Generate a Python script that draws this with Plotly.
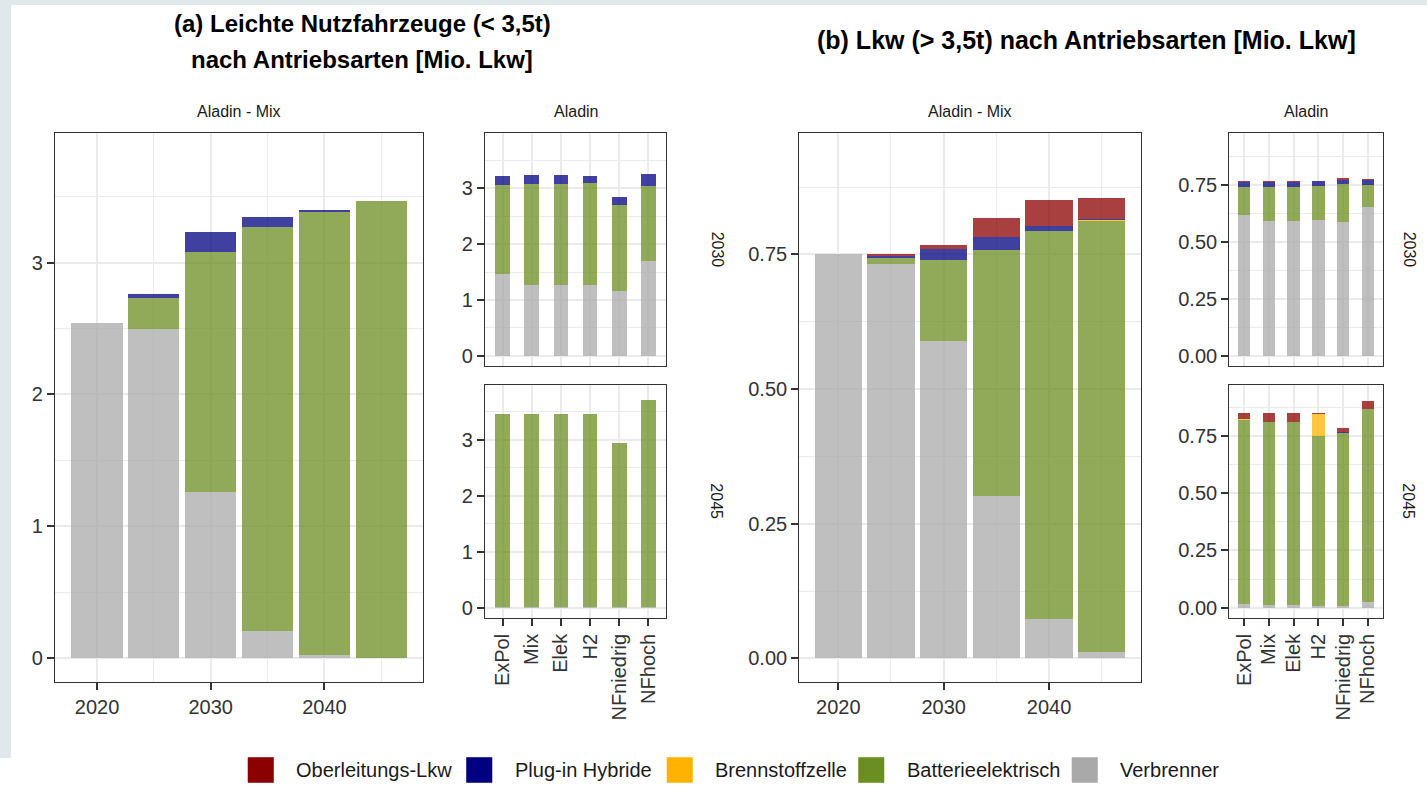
import plotly.graph_objects as go

# ---------------------------------------------------------------- data
years = [2020, 2025, 2030, 2035, 2040, 2045]
scenarios = ["ExPol", "Mix", "Elek", "H2", "NFniedrig", "NFhoch"]

drives = ["Verbrenner", "Batterieelektrisch", "Brennstoffzelle",
          "Plug-in Hybride", "Oberleitungs-Lkw"]
legend_order = ["Oberleitungs-Lkw", "Plug-in Hybride", "Brennstoffzelle",
                "Batterieelektrisch", "Verbrenner"]

# (a) light commercial vehicles, Aladin - Mix over time [Mio.]
lnf_mix_verbrenner = [2.54, 2.50, 1.26, 0.21, 0.025, 0.003]
lnf_mix_bev = [0.0, 0.235, 1.82, 3.06, 3.36, 3.464]
lnf_mix_fcev = [0.0, 0.0, 0.0, 0.0, 0.0, 0.0]
lnf_mix_phev = [0.0, 0.025, 0.15, 0.076, 0.01, 0.0]
lnf_mix_ol = [0.0, 0.0, 0.0, 0.0, 0.0, 0.0]

# (a) Aladin scenarios, 2030
lnf_2030_verbrenner = [1.472, 1.26, 1.26, 1.27, 1.163, 1.70]
lnf_2030_bev = [1.587, 1.82, 1.82, 1.819, 1.544, 1.341]
lnf_2030_fcev = [0.0, 0.0, 0.0, 0.0, 0.0, 0.0]
lnf_2030_phev = [0.166, 0.15, 0.15, 0.136, 0.137, 0.209]
lnf_2030_ol = [0.0, 0.0, 0.0, 0.0, 0.0, 0.0]

# (a) Aladin scenarios, 2045
lnf_2045_verbrenner = [0.003, 0.003, 0.003, 0.003, 0.003, 0.003]
lnf_2045_bev = [3.461, 3.464, 3.464, 3.454, 2.94, 3.70]
lnf_2045_fcev = [0.0, 0.0, 0.0, 0.012, 0.0, 0.0]
lnf_2045_phev = [0.0, 0.0, 0.0, 0.0, 0.0, 0.0]
lnf_2045_ol = [0.0, 0.0, 0.0, 0.0, 0.0, 0.0]

# (b) heavy trucks, Aladin - Mix over time [Mio.]
lkw_mix_verbrenner = [0.750, 0.733, 0.589, 0.302, 0.073, 0.012]
lkw_mix_bev = [0.0, 0.011, 0.151, 0.457, 0.720, 0.800]
lkw_mix_fcev = [0.0, 0.0, 0.0, 0.0, 0.0, 0.002]
lkw_mix_phev = [0.0, 0.004, 0.021, 0.0235, 0.009, 0.001]
lkw_mix_ol = [0.0, 0.003, 0.006, 0.0355, 0.0485, 0.039]

# (b) Aladin scenarios, 2030
lkw_2030_verbrenner = [0.617, 0.589, 0.589, 0.594, 0.585, 0.651]
lkw_2030_bev = [0.121, 0.151, 0.151, 0.149, 0.166, 0.096]
lkw_2030_fcev = [0.0, 0.0, 0.0, 0.0, 0.0, 0.0]
lkw_2030_phev = [0.022, 0.021, 0.021, 0.022, 0.021, 0.025]
lkw_2030_ol = [0.006, 0.006, 0.006, 0.001, 0.006, 0.003]

# (b) Aladin scenarios, 2045
lkw_2045_verbrenner = [0.015, 0.012, 0.012, 0.007, 0.007, 0.023]
lkw_2045_bev = [0.805, 0.800, 0.800, 0.745, 0.757, 0.845]
lkw_2045_fcev = [0.004, 0.002, 0.0, 0.097, 0.0, 0.0]
lkw_2045_phev = [0.0, 0.001, 0.003, 0.0, 0.004, 0.003]
lkw_2045_ol = [0.028, 0.039, 0.039, 0.002, 0.019, 0.033]

colors = {
    "Oberleitungs-Lkw": (139, 0, 0),
    "Plug-in Hybride": (0, 0, 128),
    "Brennstoffzelle": (255, 179, 0),
    "Batterieelektrisch": (107, 142, 35),
    "Verbrenner": (169, 169, 169),
}
BAR_ALPHA = 0.75

# ---------------------------------------------------------------- layout helpers
W, H = 1427, 791
FONT = "Liberation Sans, Arial, sans-serif"
TICK_COLOR = "#333333"
GRID = "#ebebeb"


def xdom(left, right):
    return [left / W, right / W]


def ydom(top, bottom):
    return [1 - bottom / H, 1 - top / H]


def rgba(rgb, a):
    return "rgba(%d,%d,%d,%.2f)" % (rgb[0], rgb[1], rgb[2], a)


fig = go.Figure()

panels = [
    # axis id, x values, series by drive, bar width
    ("", years, [lnf_mix_verbrenner, lnf_mix_bev, lnf_mix_fcev, lnf_mix_phev, lnf_mix_ol], 4.5),
    ("2", scenarios, [lnf_2030_verbrenner, lnf_2030_bev, lnf_2030_fcev, lnf_2030_phev, lnf_2030_ol], 0.5),
    ("3", scenarios, [lnf_2045_verbrenner, lnf_2045_bev, lnf_2045_fcev, lnf_2045_phev, lnf_2045_ol], 0.5),
    ("4", years, [lkw_mix_verbrenner, lkw_mix_bev, lkw_mix_fcev, lkw_mix_phev, lkw_mix_ol], 4.5),
    ("5", scenarios, [lkw_2030_verbrenner, lkw_2030_bev, lkw_2030_fcev, lkw_2030_phev, lkw_2030_ol], 0.5),
    ("6", scenarios, [lkw_2045_verbrenner, lkw_2045_bev, lkw_2045_fcev, lkw_2045_phev, lkw_2045_ol], 0.5),
]

for ax, xs, series, width in panels:
    for name, vals in zip(drives, series):
        fig.add_trace(go.Bar(
            x=xs, y=vals, name=name, width=width,
            xaxis="x" + ax, yaxis="y" + ax,
            marker=dict(color=rgba(colors[name], BAR_ALPHA), line=dict(width=0)),
            showlegend=False, legendgroup=name,
            hovertemplate="%{x}: %{y:.3f}<extra>" + name + "</extra>",
        ))

tick_font = dict(family=FONT, size=20, color=TICK_COLOR)


def frame_axis(**kw):
    base = dict(
        showline=True, mirror=True, linecolor="#333333", linewidth=1.3,
        showgrid=True, gridcolor=GRID, gridwidth=2, zeroline=False,
        ticks="outside", ticklen=7, tickwidth=2, tickcolor=TICK_COLOR,
        tickfont=tick_font, fixedrange=True,
    )
    base.update(kw)
    return base


lnf_range = [-0.18, 3.98]
lkw_range = [-0.0445, 0.975]
year_range = [2016.3, 2048.7]
cat_range = [-0.6, 5.6]

year_axis = dict(range=year_range, tickmode="linear", tick0=2020, dtick=10,
                 minor=dict(showgrid=True, gridcolor=GRID, gridwidth=1,
                            tick0=2015, dtick=5, ticks=""))
lnf_y = dict(range=lnf_range, tickmode="linear", tick0=0, dtick=1,
             minor=dict(showgrid=True, gridcolor=GRID, gridwidth=1,
                        tick0=0, dtick=0.5, ticks=""))
lkw_y = dict(range=lkw_range, tickmode="linear", tick0=0, dtick=0.25,
             tickformat=".2f",
             minor=dict(showgrid=True, gridcolor=GRID, gridwidth=1,
                        tick0=0, dtick=0.125, ticks=""))
cat_top = dict(type="category", range=cat_range, categoryorder="array",
               categoryarray=scenarios, showticklabels=False, ticks="")
cat_bottom = dict(type="category", range=cat_range, categoryorder="array",
                  categoryarray=scenarios, tickangle=-90)

fig.update_layout(
    width=W, height=H,
    margin=dict(l=0, r=0, t=0, b=0),
    paper_bgcolor="white", plot_bgcolor="white",
    barmode="stack", showlegend=False,
    font=dict(family=FONT, color="#1a1a1a"),
    xaxis=frame_axis(domain=xdom(55, 423.3), anchor="y", **year_axis),
    yaxis=frame_axis(domain=ydom(133.3, 682), anchor="x", **lnf_y),
    xaxis2=frame_axis(domain=xdom(485, 666), anchor="y2", **cat_top),
    yaxis2=frame_axis(domain=ydom(133.3, 366), anchor="x2", **lnf_y),
    xaxis3=frame_axis(domain=xdom(485, 666), anchor="y3", **cat_bottom),
    yaxis3=frame_axis(domain=ydom(385, 617.7), anchor="x3", **lnf_y),
    xaxis4=frame_axis(domain=xdom(799.3, 1140.7), anchor="y4", **year_axis),
    yaxis4=frame_axis(domain=ydom(133.3, 682.3), anchor="x4", **lkw_y),
    xaxis5=frame_axis(domain=xdom(1229.3, 1382.7), anchor="y5", **cat_top),
    yaxis5=frame_axis(domain=ydom(133.3, 366), anchor="x5", **lkw_y),
    xaxis6=frame_axis(domain=xdom(1229.3, 1382.7), anchor="y6", **cat_bottom),
    yaxis6=frame_axis(domain=ydom(385, 617.7), anchor="x6", **lkw_y),
)

# page backdrop: light band along the top and left edge
band = "#e1e8ec"
fig.add_shape(type="rect", xref="paper", yref="paper", x0=0, x1=1,
              y0=1 - 5 / H, y1=1, fillcolor=band, line_width=0, layer="below")
fig.add_shape(type="rect", xref="paper", yref="paper", x0=0, x1=11 / W,
              y0=1 - 758 / H, y1=1, fillcolor=band, line_width=0, layer="below")


def text(x, y, s, size, color="#1a1a1a", angle=0, bold=False, xanchor="center"):
    fig.add_annotation(
        x=x / W, y=1 - y / H, xref="paper", yref="paper", text=("<b>%s</b>" % s) if bold else s,
        showarrow=False, xanchor=xanchor, yanchor="middle", textangle=angle,
        font=dict(family=FONT, size=size, color=color),
    )


# titles
text(362, 23, "(a) Leichte Nutzfahrzeuge (&lt; 3,5t)", 24, "#000000", bold=True)
text(362, 59, "nach Antriebsarten [Mio. Lkw]", 24, "#000000", bold=True)
text(1086, 40, "(b) Lkw (&gt; 3,5t) nach Antriebsarten [Mio. Lkw]", 25, "#000000", bold=True)

# facet strips
text((55 + 423.3) / 2, 111, "Aladin - Mix", 16)
text((485 + 666) / 2, 111, "Aladin", 16)
text((799.3 + 1140.7) / 2, 111, "Aladin - Mix", 16)
text((1229.3 + 1382.7) / 2, 111, "Aladin", 16)
text(717, (133.3 + 366) / 2, "2030", 16, angle=90)
text(717, (385 + 617.7) / 2, "2045", 16, angle=90)
text(1409, (133.3 + 366) / 2, "2030", 16, angle=90)
text(1409, (385 + 617.7) / 2, "2045", 16, angle=90)

# legend drawn as keys + labels along the bottom
legend_keys_x = [248, 466.5, 667, 858.5, 1072]
for name, kx in zip(legend_order, legend_keys_x):
    rgb = colors[name]
    fig.add_shape(type="rect", xref="paper", yref="paper",
                  x0=kx / W, x1=(kx + 25.5) / W,
                  y0=1 - 782.5 / H, y1=1 - 757.5 / H,
                  fillcolor=rgba(rgb, 1.0),
                  line=dict(color=rgba(rgb, 0.55), width=1))
    text(kx + 46, 770, name, 20, "#1a1a1a", xanchor="left")

fig.write_html("out.html")
